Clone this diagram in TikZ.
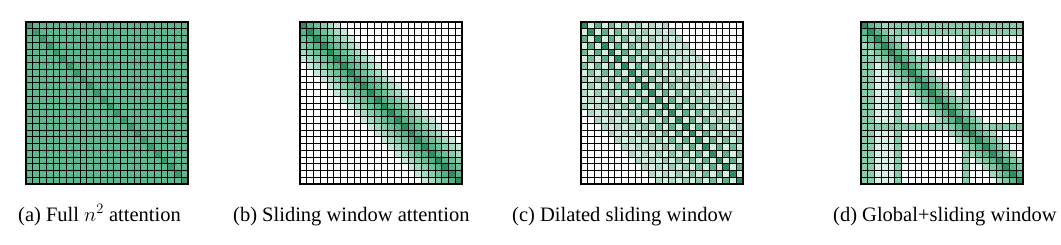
\documentclass[tikz,border=0pt]{standalone}
\usepackage{fontspec}
\setmainfont{Liberation Serif}
\definecolor{aFill}{HTML}{5DB891}
\definecolor{aDiag}{HTML}{3A9A6E}
\definecolor{dkDiag}{HTML}{2E8B62}
\definecolor{bA}{HTML}{52B386}
\definecolor{bB}{HTML}{6BC09A}
\definecolor{bC}{HTML}{86CDAE}
\definecolor{bD}{HTML}{A4DBC3}
\definecolor{bE}{HTML}{C4E9D8}
\definecolor{cA}{HTML}{5FAF88}
\definecolor{cB}{HTML}{72B996}
\definecolor{cC}{HTML}{86C3A5}
\definecolor{cD}{HTML}{9BCDB5}
\definecolor{cE}{HTML}{B0D8C5}
\definecolor{cOdd}{HTML}{D2EFE2}
\definecolor{dGlob}{HTML}{86CDAD}
\definecolor{dA}{HTML}{5AB78C}
\definecolor{dB}{HTML}{7CC8A5}
\definecolor{dC}{HTML}{9ED8BE}
\definecolor{dFaint}{HTML}{D6F0E5}
\def\cs{6.75}
\tikzset{
  gridl/.style={line width=0.6pt, black},
  frameline/.style={line width=2pt, black},
  captext/.style={anchor=base west, inner sep=0pt, font=\fontsize{20.5}{24}\selectfont},
}
\newcommand\mygrid{%
  \foreach \k in {1,...,23}{%
    \draw[gridl] ({\k*\cs},0) -- ({\k*\cs},-162);
    \draw[gridl] (0,{-\k*\cs}) -- (162,{-\k*\cs});
  }}
\newcommand\mydiag[2]{% offset, colour
  \foreach \i in {0,...,23}{%
    \fill[#2] ({(\i+#1)*\cs},{-\i*\cs}) rectangle ++(\cs,-\cs);
    \fill[#2] ({(\i-#1)*\cs},{-\i*\cs}) rectangle ++(\cs,-\cs);
  }}
\newcommand\myrowcol[2]{% index, colour
  \fill[#2] (0,{-#1*\cs}) rectangle (162,{-(#1+1)*\cs});
  \fill[#2] ({#1*\cs},0) rectangle ({(#1+1)*\cs},-162);
}
\begin{document}
\begin{tikzpicture}[x=1pt,y=1pt]
\useasboundingbox (0,0) rectangle (1061,245);
% (a) full attention
\begin{scope}[shift={(26,223)}]
  \begin{scope}
    \clip (0,0) rectangle (162,-162);
    \fill[aFill] (0,0) rectangle (162,-162);
    \mydiag{0}{aDiag}
    \mygrid
  \end{scope}
  \draw[frameline] (0,0) rectangle (162,-162);
\end{scope}
% (b) sliding window
\begin{scope}[shift={(300,223)}]
  \begin{scope}
    \clip (0,0) rectangle (162,-162);
    \fill[white] (0,0) rectangle (162,-162);
    \mydiag{5}{bE}
    \mydiag{4}{bD}
    \mydiag{3}{bC}
    \mydiag{2}{bB}
    \mydiag{1}{bA}
    \mydiag{0}{dkDiag}
    \mygrid
  \end{scope}
  \draw[frameline] (0,0) rectangle (162,-162);
\end{scope}
% (c) dilated sliding window
\begin{scope}[shift={(581,223)}]
  \begin{scope}
    \clip (0,0) rectangle (162,-162);
    \fill[white] (0,0) rectangle (162,-162);
    \foreach \o in {1,3,5,7,9,11}{\mydiag{\o}{cOdd}}
    \mydiag{12}{cE}
    \mydiag{10}{cE}
    \mydiag{8}{cD}
    \mydiag{6}{cC}
    \mydiag{4}{cB}
    \mydiag{2}{cA}
    \mydiag{0}{dkDiag}
    \mygrid
  \end{scope}
  \draw[frameline] (0,0) rectangle (162,-162);
\end{scope}
% (d) global + sliding window
\begin{scope}[shift={(861,223)}]
  \begin{scope}
    \clip (0,0) rectangle (162,-162);
    \fill[white] (0,0) rectangle (162,-162);
    \fill[dFaint] ({2*\cs},0) rectangle ({5*\cs},-162);
    \foreach \g in {0,1,5,15}{\myrowcol{\g}{dGlob}}
    \mydiag{3}{dC}
    \mydiag{2}{dB}
    \mydiag{1}{dA}
    \mydiag{0}{dkDiag}
    \mygrid
  \end{scope}
  \draw[frameline] (0,0) rectangle (162,-162);
\end{scope}
% captions
\node[captext] (capa) at (18,23.5) {(a) Full $n^2$ attention};
\node[captext] (capb) at (233,23.5) {(b) Sliding window attention};
\node[captext] (capc) at (512,23.5) {(c) Dilated sliding window};
\node[captext] (capd) at (833,23.5) {(d) Global+sliding window};
\end{tikzpicture}
\end{document}
